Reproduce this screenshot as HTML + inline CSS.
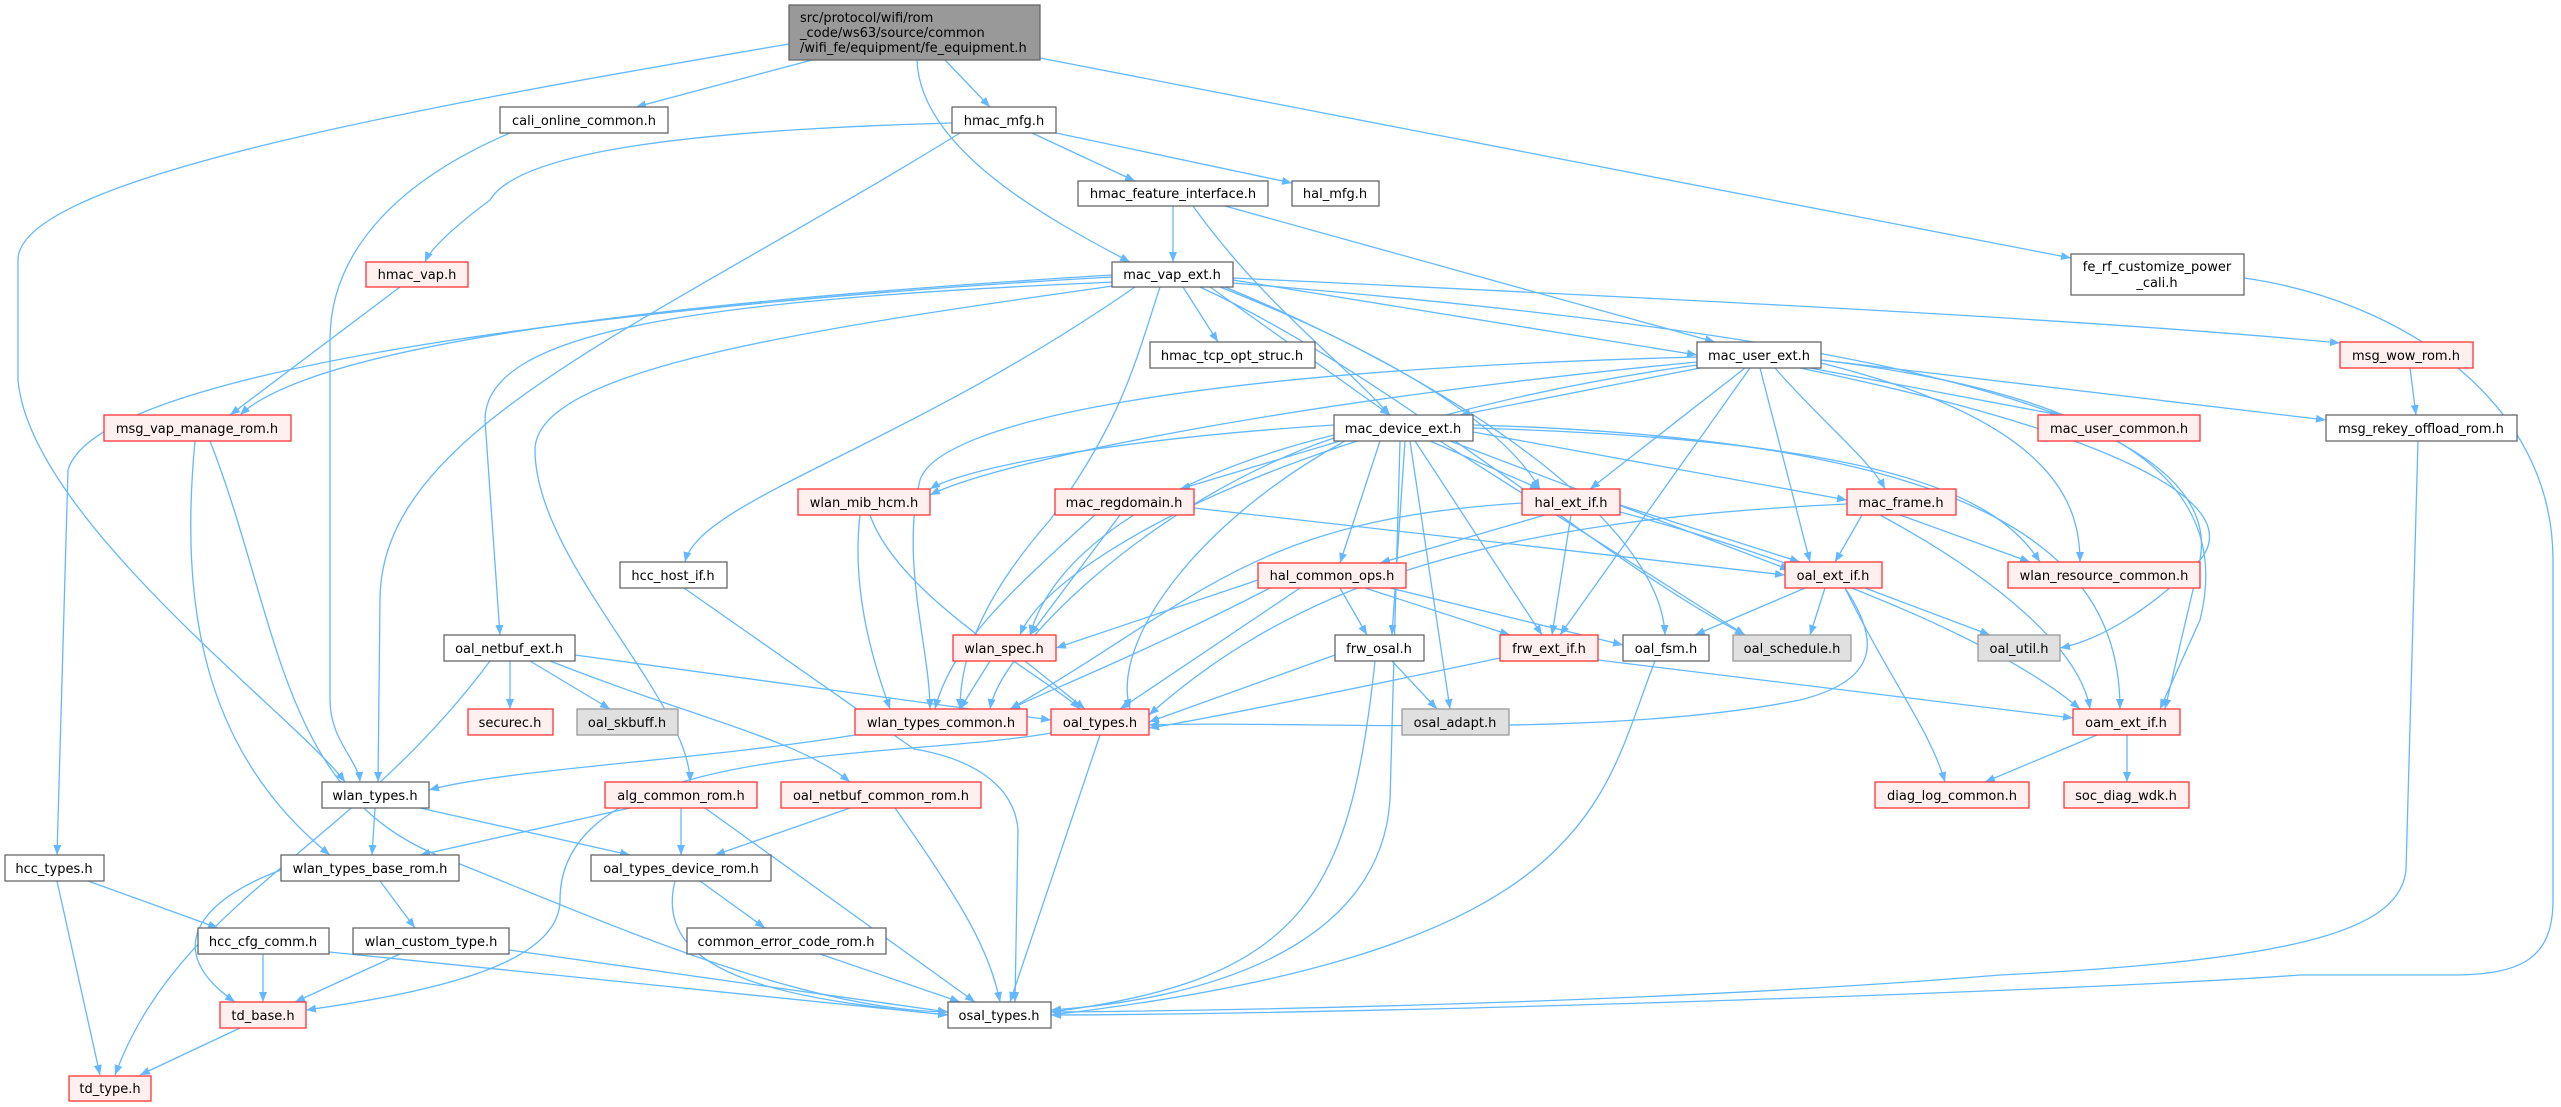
<!DOCTYPE html>
<html><head><meta charset="utf-8"><style>
html,body{margin:0;padding:0;background:#fff;}
svg{display:block;}
text{font-family:"DejaVu Sans","Liberation Sans",sans-serif;font-size:13px;fill:#000;}
.e{fill:none;stroke:#63b8ff;stroke-width:1.3;marker-end:url(#a);}
.n{fill:#fff;stroke:#666;stroke-width:1.3;}
.r{fill:#fff0f0;stroke:#f33;stroke-width:1.3;}
.g{fill:#e0e0e0;stroke:#999;stroke-width:1.3;}
</style></head><body>
<svg width="2561" height="1107" viewBox="0 0 2561 1107" xmlns="http://www.w3.org/2000/svg">
<defs><marker id="a" markerUnits="userSpaceOnUse" markerWidth="11" markerHeight="8" refX="10" refY="4" orient="auto"><path d="M0,0 L10,4 L0,8 z" fill="#63b8ff"/></marker></defs>
<g>
<path class="e" d="M789,44 C400,110 18,180 18,260 L18,380 C30,520 300,720 345,782"/>
<path class="e" d="M812,60 L636,107"/>
<path class="e" d="M945,60 L990,107"/>
<path class="e" d="M917,60 C920,150 1050,220 1130,262"/>
<path class="e" d="M1040,58 L2071,258"/>
<path class="e" d="M510,133 C400,180 330,250 330,340 L330,700 C330,740 358,760 360,782"/>
<path class="e" d="M952,123 C700,130 520,150 490,200 C450,230 430,250 425,262"/>
<path class="e" d="M960,133 C640,330 380,430 380,600 L378,782"/>
<path class="e" d="M1032,133 L1135,181"/>
<path class="e" d="M1056,133 L1292,183"/>
<path class="e" d="M1173,206 L1173,262"/>
<path class="e" d="M1193,206 C1260,300 1340,360 1390,415"/>
<path class="e" d="M1225,206 L1715,342"/>
<path class="e" d="M400,287 L230,415"/>
<path class="e" d="M2244,278 C2400,300 2553,400 2553,560 L2553,900 C2553,960 2520,975 2450,975 L2300,975 C2100,990 1400,1014 1051,1015"/>
<path class="e" d="M2410,368 L2416,415"/>
<path class="e" d="M2418,441 L2406,870 C2400,930 2300,960 2000,975 C1700,1000 1300,1010 1051,1012"/>
<path class="e" d="M1112,275 C700,300 320,340 240,415"/>
<path class="e" d="M1112,277 C700,300 100,360 68,470 L57,855"/>
<path class="e" d="M1115,282 C700,300 485,330 485,420 L500,635"/>
<path class="e" d="M1120,285 C800,330 535,370 535,450 C535,560 690,700 690,782"/>
<path class="e" d="M1135,287 C900,450 700,500 685,562"/>
<path class="e" d="M1160,287 C1130,380 1120,420 1050,520 C980,600 960,660 960,709"/>
<path class="e" d="M1183,287 L1218,342"/>
<path class="e" d="M1210,287 L1390,415"/>
<path class="e" d="M1233,280 L1697,355"/>
<path class="e" d="M1233,278 C1700,300 2100,320 2340,343"/>
<path class="e" d="M1220,287 C1380,350 1500,420 1540,489"/>
<path class="e" d="M1225,287 C1450,380 1660,520 1665,635"/>
<path class="e" d="M1200,287 C1400,380 1600,560 1745,635"/>
<path class="e" d="M1233,283 C1800,330 2230,400 2200,560 L2165,709"/>
<path class="e" d="M1697,357 C1200,370 940,420 920,480 C900,560 930,650 930,709"/>
<path class="e" d="M1700,368 L1460,415"/>
<path class="e" d="M1697,362 C1300,400 1000,460 930,495"/>
<path class="e" d="M1697,365 C1300,420 1050,560 1020,635"/>
<path class="e" d="M1745,368 L1590,489"/>
<path class="e" d="M1750,368 L1560,635"/>
<path class="e" d="M1760,368 L1810,562"/>
<path class="e" d="M1775,368 C1820,420 1870,460 1885,489"/>
<path class="e" d="M1810,368 L2060,415"/>
<path class="e" d="M1821,360 L2326,420"/>
<path class="e" d="M1800,368 C2100,430 2250,500 2200,560 C2150,610 2100,640 2060,648"/>
<path class="e" d="M1821,363 C2050,420 2080,500 2080,562"/>
<path class="e" d="M1821,360 C2150,400 2230,500 2200,620 L2160,709"/>
<path class="e" d="M1334,425 C1100,440 960,470 930,489"/>
<path class="e" d="M1340,441 L1180,489"/>
<path class="e" d="M1430,441 L1540,489"/>
<path class="e" d="M1473,432 L1847,500"/>
<path class="e" d="M1473,428 C1900,440 2000,500 2040,562"/>
<path class="e" d="M1473,425 C2000,440 2120,560 2120,709"/>
<path class="e" d="M1450,441 L1790,570"/>
<path class="e" d="M1380,441 L1340,563"/>
<path class="e" d="M1405,441 L1392,635"/>
<path class="e" d="M1415,441 L1542,635"/>
<path class="e" d="M1410,441 L1450,709"/>
<path class="e" d="M1400,441 L1390,800 C1380,950 1200,1000 1051,1010"/>
<path class="e" d="M1334,435 C1150,480 1050,560 1030,635"/>
<path class="e" d="M1334,438 C1150,500 1000,650 990,709"/>
<path class="e" d="M1345,441 C1200,520 1110,640 1130,709"/>
<path class="e" d="M1440,441 L1745,635"/>
<path class="e" d="M1120,515 L1030,635"/>
<path class="e" d="M1095,515 C1000,600 950,650 935,709"/>
<path class="e" d="M1194,508 L1785,575"/>
<path class="e" d="M860,515 C850,600 880,680 890,709"/>
<path class="e" d="M870,515 C900,600 1050,680 1080,709"/>
<path class="e" d="M1545,515 L1380,563"/>
<path class="e" d="M1571,515 L1552,635"/>
<path class="e" d="M1620,505 L1800,562"/>
<path class="e" d="M1620,512 C1800,560 2000,640 2080,709"/>
<path class="e" d="M1522,503 C1250,520 1200,600 1010,709"/>
<path class="e" d="M1862,515 L1835,562"/>
<path class="e" d="M1900,515 L2030,562"/>
<path class="e" d="M1880,515 C2000,580 2080,650 2090,709"/>
<path class="e" d="M1847,504 C1500,520 1300,580 1149,715"/>
<path class="e" d="M1258,580 L1056,648"/>
<path class="e" d="M1270,588 C1150,650 1050,690 1010,709"/>
<path class="e" d="M1300,588 L1120,709"/>
<path class="e" d="M1340,588 L1367,635"/>
<path class="e" d="M1365,588 L1510,635"/>
<path class="e" d="M1390,588 L1623,645"/>
<path class="e" d="M1805,588 L1695,635"/>
<path class="e" d="M1825,588 L1810,635"/>
<path class="e" d="M1865,588 L1990,635"/>
<path class="e" d="M1845,588 C1890,680 1930,730 1945,782"/>
<path class="e" d="M1845,588 C1880,640 1880,680 1800,700 C1600,740 1300,720 1149,725"/>
<path class="e" d="M1335,655 L1149,722"/>
<path class="e" d="M1392,661 L1437,709"/>
<path class="e" d="M1375,661 C1350,900 1300,980 1051,1012"/>
<path class="e" d="M1500,658 C1300,700 1200,720 1149,728"/>
<path class="e" d="M1598,660 L2073,718"/>
<path class="e" d="M1655,661 C1600,800 1600,950 1051,1015"/>
<path class="e" d="M2097,735 L1985,782"/>
<path class="e" d="M2127,735 L2127,782"/>
<path class="e" d="M990,661 L960,709"/>
<path class="e" d="M1025,661 L1085,709"/>
<path class="e" d="M510,661 L510,709"/>
<path class="e" d="M530,661 L610,709"/>
<path class="e" d="M550,661 C700,720 800,740 850,782"/>
<path class="e" d="M575,655 L1051,720"/>
<path class="e" d="M490,661 C350,850 180,900 115,1075"/>
<path class="e" d="M855,735 C700,760 500,770 429,790"/>
<path class="e" d="M1051,733 C900,760 560,740 560,900 C560,960 450,990 306,1010"/>
<path class="e" d="M1100,735 L1010,1002"/>
<path class="e" d="M375,808 L372,855"/>
<path class="e" d="M420,808 L630,855"/>
<path class="e" d="M630,808 L420,855"/>
<path class="e" d="M681,808 L681,855"/>
<path class="e" d="M705,808 L975,1002"/>
<path class="e" d="M850,808 L715,855"/>
<path class="e" d="M895,808 C960,900 990,950 1000,1002"/>
<path class="e" d="M88,881 L218,928"/>
<path class="e" d="M57,881 L100,1075"/>
<path class="e" d="M281,870 C200,900 160,950 235,1002"/>
<path class="e" d="M380,881 L415,928"/>
<path class="e" d="M700,881 L765,928"/>
<path class="e" d="M675,881 C650,980 800,1000 948,1015"/>
<path class="e" d="M263,954 L263,1002"/>
<path class="e" d="M329,952 L948,1015"/>
<path class="e" d="M400,954 L295,1002"/>
<path class="e" d="M509,950 L948,1012"/>
<path class="e" d="M820,954 L960,1002"/>
<path class="e" d="M240,1028 L140,1075"/>
<path class="e" d="M195,441 C180,600 200,750 330,855"/>
<path class="e" d="M210,441 C280,620 280,800 450,860 C600,920 800,1010 948,1012"/>
<path class="e" d="M684,588 L914,749 C980,760 1015,790 1018,830 L1015,1002"/>
</g>
<g>
<rect x="789" y="5" width="251" height="55" fill="#999" stroke="#666" stroke-width="1.3"/>
<text x="800" y="22">src/protocol/wifi/rom</text>
<text x="800" y="37">_code/ws63/source/common</text>
<text x="800" y="52">/wifi_fe/equipment/fe_equipment.h</text>

<rect class="n" x="2071" y="254" width="173" height="41"/>
<text x="2157" y="271" text-anchor="middle">fe_rf_customize_power</text>
<text x="2157" y="287" text-anchor="middle">_cali.h</text>
</g>
<g text-anchor="middle">
<rect class="n" x="500" y="107" width="168" height="26"/><text x="584" y="125">cali_online_common.h</text>
<rect class="n" x="952" y="107" width="104" height="26"/><text x="1004" y="125">hmac_mfg.h</text>
<rect class="n" x="1078" y="181" width="190" height="25"/><text x="1173" y="198">hmac_feature_interface.h</text>
<rect class="n" x="1292" y="181" width="87" height="25"/><text x="1335" y="198">hal_mfg.h</text>
<rect class="r" x="366" y="262" width="102" height="25"/><text x="417" y="279">hmac_vap.h</text>
<rect class="n" x="1112" y="262" width="121" height="25"/><text x="1172" y="279">mac_vap_ext.h</text>
<rect class="n" x="1150" y="342" width="165" height="26"/><text x="1232" y="360">hmac_tcp_opt_struc.h</text>
<rect class="n" x="1697" y="342" width="124" height="26"/><text x="1759" y="360">mac_user_ext.h</text>
<rect class="r" x="2340" y="342" width="133" height="26"/><text x="2406" y="360">msg_wow_rom.h</text>
<rect class="r" x="104" y="415" width="187" height="26"/><text x="197" y="433">msg_vap_manage_rom.h</text>
<rect class="n" x="1334" y="415" width="139" height="26"/><text x="1403" y="433">mac_device_ext.h</text>
<rect class="r" x="2038" y="415" width="162" height="26"/><text x="2119" y="433">mac_user_common.h</text>
<rect class="n" x="2326" y="415" width="191" height="26"/><text x="2421" y="433">msg_rekey_offload_rom.h</text>
<rect class="r" x="798" y="489" width="132" height="26"/><text x="864" y="507">wlan_mib_hcm.h</text>
<rect class="r" x="1055" y="489" width="139" height="26"/><text x="1124" y="507">mac_regdomain.h</text>
<rect class="r" x="1522" y="489" width="98" height="26"/><text x="1571" y="507">hal_ext_if.h</text>
<rect class="r" x="1847" y="489" width="109" height="26"/><text x="1901" y="507">mac_frame.h</text>
<rect class="n" x="620" y="562" width="107" height="26"/><text x="673" y="580">hcc_host_if.h</text>
<rect class="r" x="1258" y="563" width="148" height="25"/><text x="1332" y="580">hal_common_ops.h</text>
<rect class="r" x="1785" y="562" width="97" height="26"/><text x="1833" y="580">oal_ext_if.h</text>
<rect class="r" x="2008" y="562" width="192" height="26"/><text x="2104" y="580">wlan_resource_common.h</text>
<rect class="n" x="444" y="635" width="131" height="26"/><text x="509" y="653">oal_netbuf_ext.h</text>
<rect class="r" x="953" y="635" width="103" height="26"/><text x="1004" y="653">wlan_spec.h</text>
<rect class="n" x="1335" y="635" width="89" height="26"/><text x="1379" y="653">frw_osal.h</text>
<rect class="r" x="1500" y="635" width="98" height="26"/><text x="1549" y="653">frw_ext_if.h</text>
<rect class="n" x="1623" y="635" width="86" height="26"/><text x="1666" y="653">oal_fsm.h</text>
<rect class="g" x="1733" y="635" width="118" height="26"/><text x="1792" y="653">oal_schedule.h</text>
<rect class="g" x="1978" y="635" width="82" height="26"/><text x="2019" y="653">oal_util.h</text>
<rect class="r" x="468" y="709" width="85" height="26"/><text x="510" y="727">securec.h</text>
<rect class="g" x="577" y="709" width="101" height="26"/><text x="627" y="727">oal_skbuff.h</text>
<rect class="r" x="855" y="709" width="172" height="26"/><text x="941" y="727">wlan_types_common.h</text>
<rect class="r" x="1051" y="709" width="98" height="26"/><text x="1100" y="727">oal_types.h</text>
<rect class="g" x="1402" y="709" width="107" height="26"/><text x="1455" y="727">osal_adapt.h</text>
<rect class="r" x="2073" y="709" width="107" height="26"/><text x="2126" y="727">oam_ext_if.h</text>
<rect class="n" x="322" y="782" width="107" height="26"/><text x="375" y="800">wlan_types.h</text>
<rect class="r" x="605" y="782" width="152" height="26"/><text x="681" y="800">alg_common_rom.h</text>
<rect class="r" x="781" y="782" width="200" height="26"/><text x="881" y="800">oal_netbuf_common_rom.h</text>
<rect class="r" x="1875" y="782" width="154" height="26"/><text x="1952" y="800">diag_log_common.h</text>
<rect class="r" x="2064" y="782" width="125" height="26"/><text x="2126" y="800">soc_diag_wdk.h</text>
<rect class="n" x="5" y="855" width="99" height="26"/><text x="54" y="873">hcc_types.h</text>
<rect class="n" x="281" y="855" width="178" height="26"/><text x="370" y="873">wlan_types_base_rom.h</text>
<rect class="n" x="591" y="855" width="180" height="26"/><text x="681" y="873">oal_types_device_rom.h</text>
<rect class="n" x="198" y="928" width="131" height="26"/><text x="263" y="946">hcc_cfg_comm.h</text>
<rect class="n" x="353" y="928" width="156" height="26"/><text x="431" y="946">wlan_custom_type.h</text>
<rect class="n" x="687" y="928" width="199" height="26"/><text x="786" y="946">common_error_code_rom.h</text>
<rect class="r" x="220" y="1002" width="86" height="26"/><text x="263" y="1020">td_base.h</text>
<rect class="n" x="948" y="1002" width="103" height="26"/><text x="999" y="1020">osal_types.h</text>
<rect class="r" x="69" y="1076" width="82" height="25"/><text x="110" y="1093">td_type.h</text>
</g>
</svg>
</body></html>
